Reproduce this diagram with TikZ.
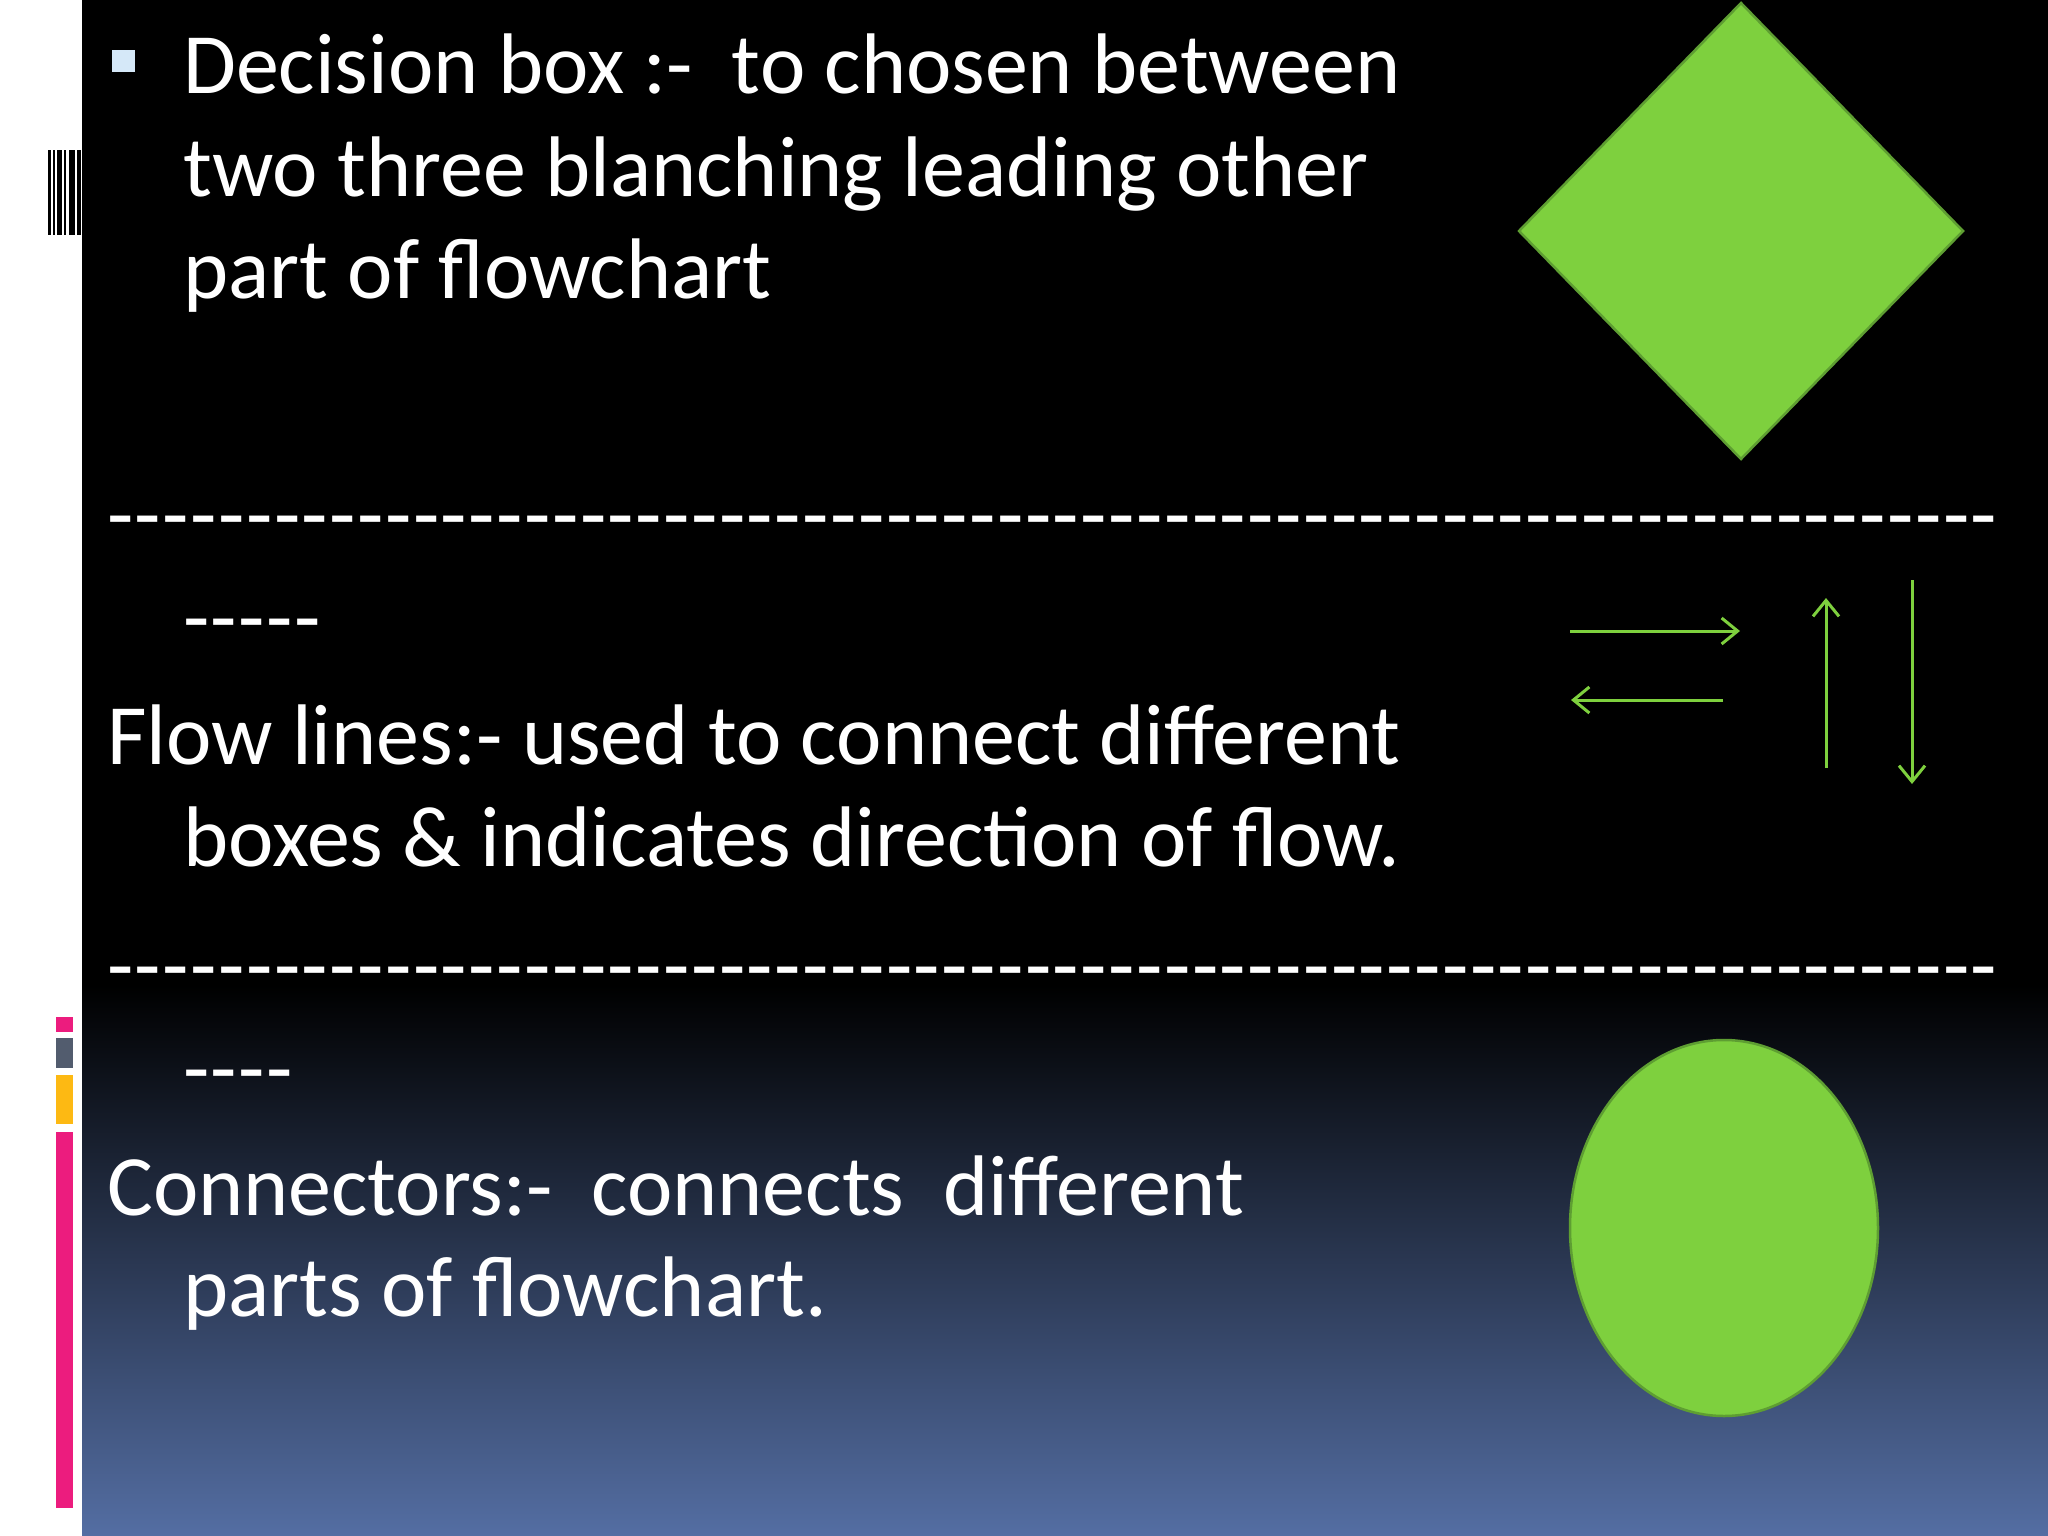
\documentclass[tikz,border=0pt]{standalone}
\usepackage{fontspec}
\setmainfont{Carlito}
\usetikzlibrary{arrows.meta,shapes.geometric}
\definecolor{gfill}{HTML}{7ED03E}
\definecolor{gdraw}{HTML}{5E9E32}
\definecolor{bluebot}{HTML}{546EA3}
\definecolor{pinkbar}{HTML}{EC1C7E}
\definecolor{graybar}{HTML}{525C6E}
\definecolor{yellowbar}{HTML}{FDB913}
\definecolor{bulletc}{HTML}{D5E8F8}
\tikzset{
  txt/.style={anchor=base west,text=white,inner sep=0pt,font=\fontsize{86}{100}\selectfont},
  flow/.style={draw=gfill,line width=3pt,-{Straight Barb[length=16pt,width=26pt,line width=3pt]}},
}
\newcommand\hyrow[1]{\foreach \i in {1,...,#1}{-\kern1.5pt}}
\begin{document}
\begin{tikzpicture}[x=1pt,y=-1pt]
\useasboundingbox (0,0) rectangle (2048,1536);
\fill[white] (0,0) rectangle (82,1536);
\fill[black] (82,0) rectangle (2048,1536);
\shade[top color=black,bottom color=bluebot] (82,985) rectangle (2048,1536);
% barcode
\foreach \a/\b in {48/51,53/55,57/62,64/66,69/75,77/81}{\fill[black] (\a,150) rectangle (\b,235);}
% colour bars
\fill[pinkbar] (56,1017) rectangle (73,1032);
\fill[graybar] (56,1038) rectangle (73,1068);
\fill[yellowbar] (56,1075) rectangle (73,1124);
\fill[pinkbar] (56,1132) rectangle (73,1508);
% bullet
\fill[bulletc] (112,50) rectangle (135,72);
\node[txt] (l1) at (183,94) {Decision box :-\ \ to chosen between};
\node[txt] (l2) at (183,196) {two three blanching leading other};
\node[txt] (l3) at (183,298) {part of flowchart};
\node[txt] (d1) at (107,543) {\hyrow{68}};
\node[txt] (d1b) at (183,646) {\hyrow{5}};
\node[txt] (l4) at (107,764) {Flow lines:- used to connect different};
\node[txt] (l5) at (183,866) {boxes \& indicates direc\kern0pt tion of flow.};
\node[txt] (d2) at (107,994) {\hyrow{68}};
\node[txt] (d2b) at (183,1097) {\hyrow{4}};
\node[txt] (l6) at (107,1215) {Connectors:-\ \ connects\ \ different};
\node[txt] (l7) at (183,1316) {parts of flowchart.};
% decision diamond
\node[diamond,fill=gfill,draw=gdraw,line width=2.5pt,minimum width=445pt,minimum height=457pt,inner sep=0pt,aspect=0.97] (dia) at (1741,231) {};
% flow arrows
\coordinate (ra) at (1570,631); \coordinate (rb) at (1740,631);
\coordinate (la) at (1723,700); \coordinate (lb) at (1571,700);
\coordinate (ua) at (1826,768); \coordinate (ub) at (1826,598);
\coordinate (da) at (1912,580); \coordinate (db) at (1912,784);
\draw[flow] (ra) -- (rb);
\draw[flow] (la) -- (lb);
\draw[flow] (ua) -- (ub);
\draw[flow] (da) -- (db);
% connector
\node[ellipse,fill=gfill,draw=gdraw,line width=2.5pt,minimum width=308pt,minimum height=376pt,inner sep=0pt] (conn) at (1724,1228) {};
\end{tikzpicture}
\end{document}
